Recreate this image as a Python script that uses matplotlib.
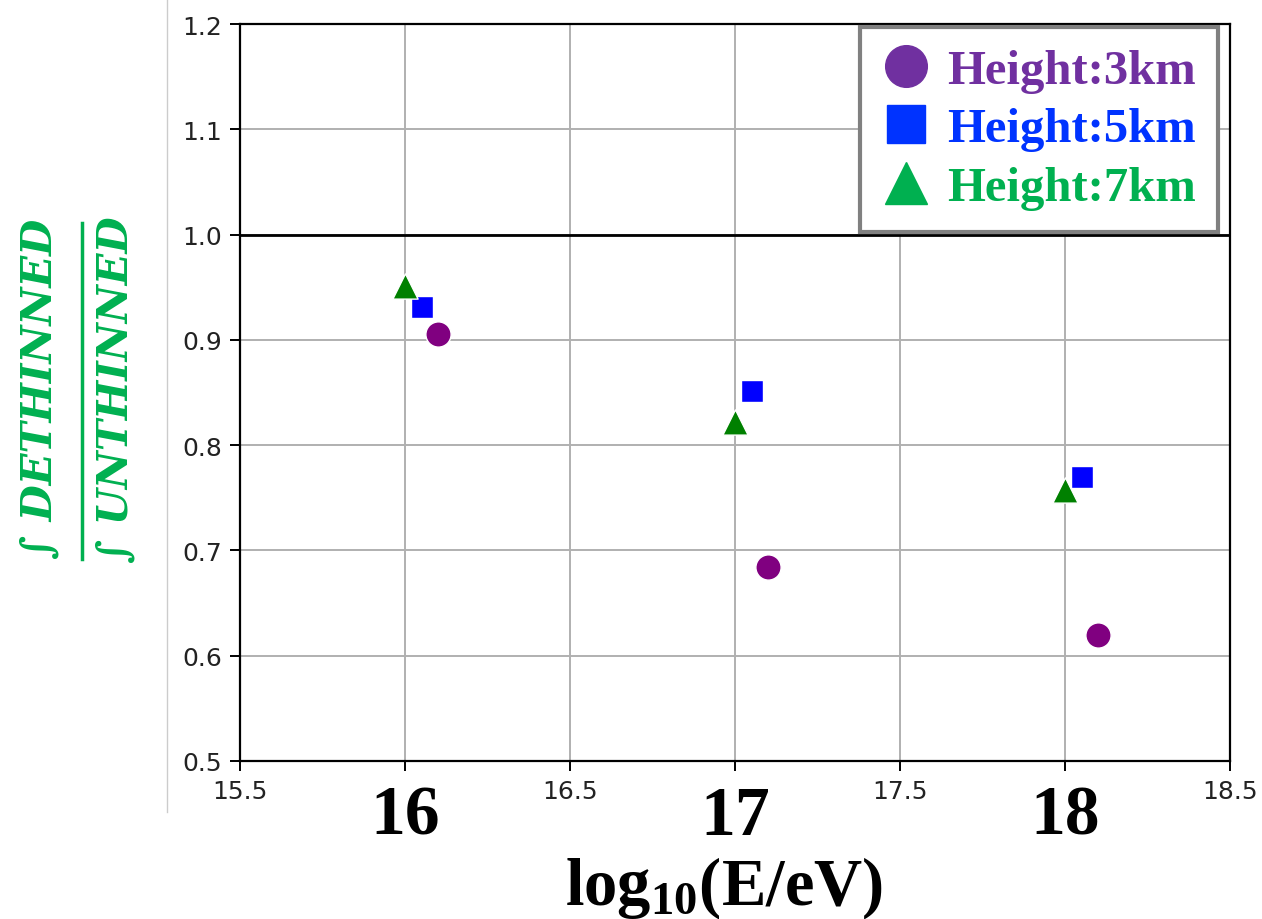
import matplotlib
matplotlib.use("Agg")
import matplotlib.pyplot as plt
import matplotlib.transforms as mtransforms
from matplotlib.lines import Line2D

# data
energies = [16.0, 17.0, 18.0]
ratio_3km = [0.906, 0.684, 0.620]
ratio_5km = [0.931, 0.851, 0.770]
ratio_7km = [0.951, 0.822, 0.757]
offset_3km = 0.10
offset_5km = 0.05
offset_7km = 0.0
legend_labels = ["Height:3km", "Height:5km", "Height:7km"]
x_ticks = [15.5, 16.0, 16.5, 17.0, 17.5, 18.0, 18.5]
x_ticklabels = ["15.5", "", "16.5", "", "17.5", "", "18.5"]
big_ticks = [16, 17, 18]

plt.rcParams['mathtext.fontset'] = 'custom'
plt.rcParams['mathtext.rm'] = 'Liberation Serif:bold'
plt.rcParams['mathtext.bf'] = 'Liberation Serif:bold'
plt.rcParams['mathtext.it'] = 'Liberation Serif:bold:italic'

W, H = 1262, 920
fig = plt.figure(figsize=(W / 100, H / 100), dpi=100)
ax = fig.add_axes([240 / W, 1 - 762 / H, 990 / W, 737 / H])

ax.scatter([e + offset_3km for e in energies], ratio_3km, s=330, marker='o',
           color='purple', edgecolor='white', linewidth=1, zorder=3)
ax.scatter([e + offset_5km for e in energies], ratio_5km, s=250, marker='s',
           color='blue', edgecolor='white', linewidth=1, zorder=3)
ax.scatter([e + offset_7km for e in energies], ratio_7km, s=330, marker='^',
           color='green', edgecolor='white', linewidth=1, zorder=3)

ax.axhline(1.0, color='black', linewidth=2, zorder=2)

ax.set_xlim(15.5, 18.5)
ax.set_ylim(0.5, 1.2)
ax.set_xticks(x_ticks)
ax.set_xticklabels(x_ticklabels)
ax.set_yticks([0.5, 0.6, 0.7, 0.8, 0.9, 1.0, 1.1, 1.2])
ax.grid(True, color='#b0b0b0', linewidth=1.4)
ax.set_axisbelow(True)
ax.tick_params(labelsize=18, length=7, width=1.4, pad=6, labelcolor='#222222')
for sp in ax.spines.values():
    sp.set_linewidth(1.6)

# big serif labels under the axis
trans = mtransforms.blended_transform_factory(ax.transData, fig.transFigure)
for v in big_ticks:
    ax.text(v, 1 - 835 / H, str(v), transform=trans, ha='center', va='baseline',
            fontsize=50, fontweight='bold', family='Liberation Serif')

fig.text(724 / W, 1 - 905 / H, r'$\mathrm{log_{10}(E/eV)}$', ha='center',
         va='baseline', fontsize=48)

# y label as a rotated fraction
green = '#00B050'
fig.text(40 / W, 1 - 389 / H, '∫ DETHINNED', rotation=90, ha='center', va='center',
         fontsize=30, fontweight='bold', fontstyle='italic', family='DejaVu Serif',
         color=green)
fig.text(116 / W, 1 - 390 / H, '∫ UNTHINNED', rotation=90, ha='center', va='center',
         fontsize=30, fontweight='bold', fontstyle='italic', family='DejaVu Serif',
         color=green)
fig.add_artist(Line2D([82 / W, 82 / W], [1 - 224 / H, 1 - 560 / H],
                      transform=fig.transFigure, color=green, linewidth=2.5))

# thin border line left of the axis
fig.add_artist(Line2D([167 / W, 167 / W], [1, 1 - 813 / H],
                      transform=fig.transFigure, color='#cccccc', linewidth=1))

legend_colors = ['#7030A0', '#0033FF', '#00B050']
handles = [
    Line2D([], [], marker='o', linestyle='none', markersize=30, color=legend_colors[0]),
    Line2D([], [], marker='s', linestyle='none', markersize=27, color=legend_colors[1]),
    Line2D([], [], marker='^', linestyle='none', markersize=30, color=legend_colors[2]),
]
leg = ax.legend(handles, legend_labels, loc='upper right', bbox_to_anchor=(0.988, 0.996),
                borderaxespad=0, fancybox=False, framealpha=1, edgecolor='#808080',
                prop={'family': 'Liberation Serif', 'weight': 'bold', 'size': 35},
                labelcolor=legend_colors, handlelength=1.0, handletextpad=0.35,
                labelspacing=0.3, borderpad=0.45)
leg.get_frame().set_linewidth(3)

fig.savefig('out.png', dpi=100)
